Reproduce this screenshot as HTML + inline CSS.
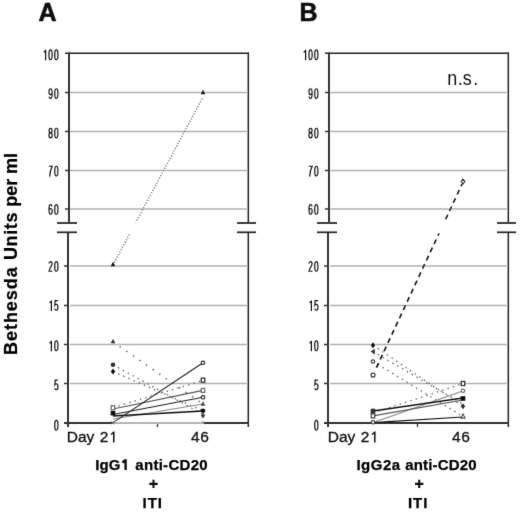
<!DOCTYPE html>
<html><head><meta charset="utf-8"><style>
html,body{margin:0;padding:0;background:#fff;width:520px;height:513px;overflow:hidden}
svg{display:block}
#wrap{}
</style></head><body>
<div id="wrap"><svg width="520" height="513" viewBox="0 0 520 513">
<style>
text { font-family: "Liberation Sans", sans-serif; fill: #111; }
.tk { font-size: 16px; }
.dg { fill: none; stroke: #111; stroke-width: 1.2; }
.xl { font-size: 15.5px; stroke: #111; stroke-width: 0.3px; }
.bl { font-size: 15px; font-weight: bold; word-spacing: 3px; fill: #000; stroke: #000; stroke-width: 0.25px; }
.pl { font-size: 25px; font-weight: bold; stroke: #111; stroke-width: 0.6px; }
.yt { font-size: 18px; font-weight: bold; fill: #000; stroke: #000; stroke-width: 0.25px; }
</style>
<defs><filter id="bl" filterUnits="userSpaceOnUse" x="0" y="0" width="520" height="513"><feConvolveMatrix order="3" kernelMatrix="0.01 0.065 0.01 0.065 0.7 0.065 0.01 0.065 0.01" divisor="1" edgeMode="duplicate"/></filter></defs>
<rect width="520" height="513" fill="#fff"/>
<g filter="url(#bl)">
<line x1="70" y1="92.5" x2="247" y2="92.5" stroke="#b0b0b0" stroke-width="1.3"/>
<line x1="70" y1="131.5" x2="247" y2="131.5" stroke="#b0b0b0" stroke-width="1.3"/>
<line x1="70" y1="170.5" x2="247" y2="170.5" stroke="#b0b0b0" stroke-width="1.3"/>
<line x1="70" y1="209.0" x2="247" y2="209.0" stroke="#b0b0b0" stroke-width="1.3"/>
<line x1="70" y1="266.0" x2="247" y2="266.0" stroke="#b0b0b0" stroke-width="1.3"/>
<line x1="70" y1="305.5" x2="247" y2="305.5" stroke="#b0b0b0" stroke-width="1.3"/>
<line x1="70" y1="344.5" x2="247" y2="344.5" stroke="#b0b0b0" stroke-width="1.3"/>
<line x1="70" y1="383.5" x2="247" y2="383.5" stroke="#b0b0b0" stroke-width="1.3"/>
<line x1="65" y1="53.25" x2="249" y2="53.25" stroke="#262626" stroke-width="1.5"/>
<line x1="69" y1="52.5" x2="69" y2="223" stroke="#363636" stroke-width="2"/>
<line x1="68" y1="232" x2="68" y2="427" stroke="#363636" stroke-width="2"/>
<line x1="248.3" y1="52.5" x2="248.3" y2="223" stroke="#262626" stroke-width="1.5"/>
<line x1="248.3" y1="232" x2="248.3" y2="427" stroke="#262626" stroke-width="1.5"/>
<line x1="64" y1="423" x2="249" y2="423" stroke="#303030" stroke-width="2"/>
<line x1="157.5" y1="423" x2="157.5" y2="427" stroke="#303030" stroke-width="1.3"/>
<line x1="65" y1="92.5" x2="69" y2="92.5" stroke="#303030" stroke-width="1.5"/>
<line x1="65" y1="131.5" x2="69" y2="131.5" stroke="#303030" stroke-width="1.5"/>
<line x1="65" y1="170.5" x2="69" y2="170.5" stroke="#303030" stroke-width="1.5"/>
<line x1="65" y1="209.0" x2="69" y2="209.0" stroke="#303030" stroke-width="1.5"/>
<line x1="64" y1="266.0" x2="68" y2="266.0" stroke="#303030" stroke-width="1.5"/>
<line x1="64" y1="305.5" x2="68" y2="305.5" stroke="#303030" stroke-width="1.5"/>
<line x1="64" y1="344.5" x2="68" y2="344.5" stroke="#303030" stroke-width="1.5"/>
<line x1="64" y1="383.5" x2="68" y2="383.5" stroke="#303030" stroke-width="1.5"/>
<line x1="57" y1="223" x2="77" y2="223" stroke="#3c3c3c" stroke-width="2"/>
<line x1="57" y1="232.3" x2="77" y2="232.3" stroke="#222" stroke-width="1.7"/>
<line x1="237" y1="223" x2="256" y2="223" stroke="#3c3c3c" stroke-width="2"/>
<line x1="237" y1="232.3" x2="256" y2="232.3" stroke="#222" stroke-width="1.7"/>
<path transform="translate(42.50,49.3) scale(1,0.9821)" d="M3.1,0.5 V11.2 M3.1,0.9 C2.7,2 2.0,2.6 1.2,2.9" class="dg"/>
<path transform="translate(48.30,49.3) scale(1,0.9821)" d="M2.25,0.65 C3.45,0.65 3.85,2 3.85,5.6 C3.85,9.2 3.45,10.55 2.25,10.55 C1.05,10.55 0.65,9.2 0.65,5.6 C0.65,2 1.05,0.65 2.25,0.65 Z" class="dg"/>
<path transform="translate(54.10,49.3) scale(1,0.9821)" d="M2.25,0.65 C3.45,0.65 3.85,2 3.85,5.6 C3.85,9.2 3.45,10.55 2.25,10.55 C1.05,10.55 0.65,9.2 0.65,5.6 C0.65,2 1.05,0.65 2.25,0.65 Z" class="dg"/>
<path transform="translate(48.30,88.1) scale(1,0.9821)" d="M0.75,8.7 C0.95,10 1.5,10.55 2.2,10.55 C3.4,10.55 3.8,8.7 3.8,5.4 C3.8,2 3.3,0.65 2.25,0.65 C1.2,0.65 0.65,1.9 0.65,3.7 C0.65,5.5 1.2,6.6 2.2,6.6 C3.0,6.6 3.55,6.0 3.8,5.1" class="dg"/>
<path transform="translate(54.10,88.1) scale(1,0.9821)" d="M2.25,0.65 C3.45,0.65 3.85,2 3.85,5.6 C3.85,9.2 3.45,10.55 2.25,10.55 C1.05,10.55 0.65,9.2 0.65,5.6 C0.65,2 1.05,0.65 2.25,0.65 Z" class="dg"/>
<path transform="translate(48.30,127.6) scale(1,0.9821)" d="M2.25,0.65 C1.2,0.65 0.8,1.6 0.8,3.0 C0.8,4.4 1.3,5.3 2.25,5.3 C3.2,5.3 3.7,4.4 3.7,3.0 C3.7,1.6 3.3,0.65 2.25,0.65 Z M2.25,5.3 C1.1,5.3 0.65,6.4 0.65,7.9 C0.65,9.5 1.2,10.55 2.25,10.55 C3.3,10.55 3.85,9.5 3.85,7.9 C3.85,6.4 3.4,5.3 2.25,5.3 Z" class="dg"/>
<path transform="translate(54.10,127.6) scale(1,0.9821)" d="M2.25,0.65 C3.45,0.65 3.85,2 3.85,5.6 C3.85,9.2 3.45,10.55 2.25,10.55 C1.05,10.55 0.65,9.2 0.65,5.6 C0.65,2 1.05,0.65 2.25,0.65 Z" class="dg"/>
<path transform="translate(48.30,165.6) scale(1,0.9821)" d="M0.5,0.65 H3.9 C2.7,3 1.6,6.6 1.4,11.2" class="dg"/>
<path transform="translate(54.10,165.6) scale(1,0.9821)" d="M2.25,0.65 C3.45,0.65 3.85,2 3.85,5.6 C3.85,9.2 3.45,10.55 2.25,10.55 C1.05,10.55 0.65,9.2 0.65,5.6 C0.65,2 1.05,0.65 2.25,0.65 Z" class="dg"/>
<path transform="translate(48.30,203.9) scale(1,0.9821)" d="M3.75,2.5 C3.55,1.2 3.0,0.65 2.3,0.65 C1.1,0.65 0.7,2.5 0.7,5.8 C0.7,9.2 1.2,10.55 2.25,10.55 C3.3,10.55 3.85,9.4 3.85,7.6 C3.85,5.8 3.3,4.7 2.3,4.7 C1.5,4.7 0.95,5.3 0.7,6.1" class="dg"/>
<path transform="translate(54.10,203.9) scale(1,0.9821)" d="M2.25,0.65 C3.45,0.65 3.85,2 3.85,5.6 C3.85,9.2 3.45,10.55 2.25,10.55 C1.05,10.55 0.65,9.2 0.65,5.6 C0.65,2 1.05,0.65 2.25,0.65 Z" class="dg"/>
<path transform="translate(48.30,260.9) scale(1,0.9821)" d="M0.7,2.7 C0.8,1.2 1.4,0.65 2.25,0.65 C3.2,0.65 3.8,1.5 3.8,3.0 C3.8,5.2 0.75,7.9 0.75,10.55 H4.1" class="dg"/>
<path transform="translate(54.10,260.9) scale(1,0.9821)" d="M2.25,0.65 C3.45,0.65 3.85,2 3.85,5.6 C3.85,9.2 3.45,10.55 2.25,10.55 C1.05,10.55 0.65,9.2 0.65,5.6 C0.65,2 1.05,0.65 2.25,0.65 Z" class="dg"/>
<path transform="translate(48.30,299.9) scale(1,0.9821)" d="M3.1,0.5 V11.2 M3.1,0.9 C2.7,2 2.0,2.6 1.2,2.9" class="dg"/>
<path transform="translate(54.10,299.9) scale(1,0.9821)" d="M3.8,0.65 H1.1 L0.8,5.3 C1.2,4.7 1.7,4.4 2.3,4.4 C3.3,4.4 3.85,5.4 3.85,7.5 C3.85,9.6 3.2,10.55 2.2,10.55 C1.3,10.55 0.8,9.9 0.65,8.9" class="dg"/>
<path transform="translate(48.30,340.3) scale(1,0.9821)" d="M3.1,0.5 V11.2 M3.1,0.9 C2.7,2 2.0,2.6 1.2,2.9" class="dg"/>
<path transform="translate(54.10,340.3) scale(1,0.9821)" d="M2.25,0.65 C3.45,0.65 3.85,2 3.85,5.6 C3.85,9.2 3.45,10.55 2.25,10.55 C1.05,10.55 0.65,9.2 0.65,5.6 C0.65,2 1.05,0.65 2.25,0.65 Z" class="dg"/>
<path transform="translate(54.10,379.4) scale(1,0.9821)" d="M3.8,0.65 H1.1 L0.8,5.3 C1.2,4.7 1.7,4.4 2.3,4.4 C3.3,4.4 3.85,5.4 3.85,7.5 C3.85,9.6 3.2,10.55 2.2,10.55 C1.3,10.55 0.8,9.9 0.65,8.9" class="dg"/>
<path transform="translate(54.10,419.8) scale(1,0.9821)" d="M2.25,0.65 C3.45,0.65 3.85,2 3.85,5.6 C3.85,9.2 3.45,10.55 2.25,10.55 C1.05,10.55 0.65,9.2 0.65,5.6 C0.65,2 1.05,0.65 2.25,0.65 Z" class="dg"/>
<text x="66.8" y="442" class="xl" style="word-spacing:1.2px">Day 2</text>
<path d="M113.8 431.6V442.4M113.7 432.2L111.0 434.5" stroke="#111" stroke-width="1.5" fill="none"/>
<text x="200.2" y="442" class="xl" text-anchor="middle" style="letter-spacing:0.6px">46</text>
<line x1="330" y1="92.5" x2="507" y2="92.5" stroke="#b0b0b0" stroke-width="1.3"/>
<line x1="330" y1="131.5" x2="507" y2="131.5" stroke="#b0b0b0" stroke-width="1.3"/>
<line x1="330" y1="170.5" x2="507" y2="170.5" stroke="#b0b0b0" stroke-width="1.3"/>
<line x1="330" y1="209.0" x2="507" y2="209.0" stroke="#b0b0b0" stroke-width="1.3"/>
<line x1="330" y1="266.0" x2="507" y2="266.0" stroke="#b0b0b0" stroke-width="1.3"/>
<line x1="330" y1="305.5" x2="507" y2="305.5" stroke="#b0b0b0" stroke-width="1.3"/>
<line x1="330" y1="344.5" x2="507" y2="344.5" stroke="#b0b0b0" stroke-width="1.3"/>
<line x1="330" y1="383.5" x2="507" y2="383.5" stroke="#b0b0b0" stroke-width="1.3"/>
<line x1="325" y1="53.25" x2="509" y2="53.25" stroke="#262626" stroke-width="1.5"/>
<line x1="329" y1="52.5" x2="329" y2="223" stroke="#363636" stroke-width="2"/>
<line x1="328" y1="232" x2="328" y2="427" stroke="#363636" stroke-width="2"/>
<line x1="508.3" y1="52.5" x2="508.3" y2="223" stroke="#262626" stroke-width="1.5"/>
<line x1="508.3" y1="232" x2="508.3" y2="427" stroke="#262626" stroke-width="1.5"/>
<line x1="324" y1="423" x2="509" y2="423" stroke="#303030" stroke-width="2"/>
<line x1="417.5" y1="423" x2="417.5" y2="427" stroke="#303030" stroke-width="1.3"/>
<line x1="325" y1="92.5" x2="329" y2="92.5" stroke="#303030" stroke-width="1.5"/>
<line x1="325" y1="131.5" x2="329" y2="131.5" stroke="#303030" stroke-width="1.5"/>
<line x1="325" y1="170.5" x2="329" y2="170.5" stroke="#303030" stroke-width="1.5"/>
<line x1="325" y1="209.0" x2="329" y2="209.0" stroke="#303030" stroke-width="1.5"/>
<line x1="324" y1="266.0" x2="328" y2="266.0" stroke="#303030" stroke-width="1.5"/>
<line x1="324" y1="305.5" x2="328" y2="305.5" stroke="#303030" stroke-width="1.5"/>
<line x1="324" y1="344.5" x2="328" y2="344.5" stroke="#303030" stroke-width="1.5"/>
<line x1="324" y1="383.5" x2="328" y2="383.5" stroke="#303030" stroke-width="1.5"/>
<line x1="317" y1="223" x2="337" y2="223" stroke="#3c3c3c" stroke-width="2"/>
<line x1="317" y1="232.3" x2="337" y2="232.3" stroke="#222" stroke-width="1.7"/>
<line x1="497" y1="223" x2="516" y2="223" stroke="#3c3c3c" stroke-width="2"/>
<line x1="497" y1="232.3" x2="516" y2="232.3" stroke="#222" stroke-width="1.7"/>
<path transform="translate(302.50,49.3) scale(1,0.9821)" d="M3.1,0.5 V11.2 M3.1,0.9 C2.7,2 2.0,2.6 1.2,2.9" class="dg"/>
<path transform="translate(308.30,49.3) scale(1,0.9821)" d="M2.25,0.65 C3.45,0.65 3.85,2 3.85,5.6 C3.85,9.2 3.45,10.55 2.25,10.55 C1.05,10.55 0.65,9.2 0.65,5.6 C0.65,2 1.05,0.65 2.25,0.65 Z" class="dg"/>
<path transform="translate(314.10,49.3) scale(1,0.9821)" d="M2.25,0.65 C3.45,0.65 3.85,2 3.85,5.6 C3.85,9.2 3.45,10.55 2.25,10.55 C1.05,10.55 0.65,9.2 0.65,5.6 C0.65,2 1.05,0.65 2.25,0.65 Z" class="dg"/>
<path transform="translate(308.30,88.1) scale(1,0.9821)" d="M0.75,8.7 C0.95,10 1.5,10.55 2.2,10.55 C3.4,10.55 3.8,8.7 3.8,5.4 C3.8,2 3.3,0.65 2.25,0.65 C1.2,0.65 0.65,1.9 0.65,3.7 C0.65,5.5 1.2,6.6 2.2,6.6 C3.0,6.6 3.55,6.0 3.8,5.1" class="dg"/>
<path transform="translate(314.10,88.1) scale(1,0.9821)" d="M2.25,0.65 C3.45,0.65 3.85,2 3.85,5.6 C3.85,9.2 3.45,10.55 2.25,10.55 C1.05,10.55 0.65,9.2 0.65,5.6 C0.65,2 1.05,0.65 2.25,0.65 Z" class="dg"/>
<path transform="translate(308.30,127.6) scale(1,0.9821)" d="M2.25,0.65 C1.2,0.65 0.8,1.6 0.8,3.0 C0.8,4.4 1.3,5.3 2.25,5.3 C3.2,5.3 3.7,4.4 3.7,3.0 C3.7,1.6 3.3,0.65 2.25,0.65 Z M2.25,5.3 C1.1,5.3 0.65,6.4 0.65,7.9 C0.65,9.5 1.2,10.55 2.25,10.55 C3.3,10.55 3.85,9.5 3.85,7.9 C3.85,6.4 3.4,5.3 2.25,5.3 Z" class="dg"/>
<path transform="translate(314.10,127.6) scale(1,0.9821)" d="M2.25,0.65 C3.45,0.65 3.85,2 3.85,5.6 C3.85,9.2 3.45,10.55 2.25,10.55 C1.05,10.55 0.65,9.2 0.65,5.6 C0.65,2 1.05,0.65 2.25,0.65 Z" class="dg"/>
<path transform="translate(308.30,165.6) scale(1,0.9821)" d="M0.5,0.65 H3.9 C2.7,3 1.6,6.6 1.4,11.2" class="dg"/>
<path transform="translate(314.10,165.6) scale(1,0.9821)" d="M2.25,0.65 C3.45,0.65 3.85,2 3.85,5.6 C3.85,9.2 3.45,10.55 2.25,10.55 C1.05,10.55 0.65,9.2 0.65,5.6 C0.65,2 1.05,0.65 2.25,0.65 Z" class="dg"/>
<path transform="translate(308.30,203.9) scale(1,0.9821)" d="M3.75,2.5 C3.55,1.2 3.0,0.65 2.3,0.65 C1.1,0.65 0.7,2.5 0.7,5.8 C0.7,9.2 1.2,10.55 2.25,10.55 C3.3,10.55 3.85,9.4 3.85,7.6 C3.85,5.8 3.3,4.7 2.3,4.7 C1.5,4.7 0.95,5.3 0.7,6.1" class="dg"/>
<path transform="translate(314.10,203.9) scale(1,0.9821)" d="M2.25,0.65 C3.45,0.65 3.85,2 3.85,5.6 C3.85,9.2 3.45,10.55 2.25,10.55 C1.05,10.55 0.65,9.2 0.65,5.6 C0.65,2 1.05,0.65 2.25,0.65 Z" class="dg"/>
<path transform="translate(308.30,260.9) scale(1,0.9821)" d="M0.7,2.7 C0.8,1.2 1.4,0.65 2.25,0.65 C3.2,0.65 3.8,1.5 3.8,3.0 C3.8,5.2 0.75,7.9 0.75,10.55 H4.1" class="dg"/>
<path transform="translate(314.10,260.9) scale(1,0.9821)" d="M2.25,0.65 C3.45,0.65 3.85,2 3.85,5.6 C3.85,9.2 3.45,10.55 2.25,10.55 C1.05,10.55 0.65,9.2 0.65,5.6 C0.65,2 1.05,0.65 2.25,0.65 Z" class="dg"/>
<path transform="translate(308.30,299.9) scale(1,0.9821)" d="M3.1,0.5 V11.2 M3.1,0.9 C2.7,2 2.0,2.6 1.2,2.9" class="dg"/>
<path transform="translate(314.10,299.9) scale(1,0.9821)" d="M3.8,0.65 H1.1 L0.8,5.3 C1.2,4.7 1.7,4.4 2.3,4.4 C3.3,4.4 3.85,5.4 3.85,7.5 C3.85,9.6 3.2,10.55 2.2,10.55 C1.3,10.55 0.8,9.9 0.65,8.9" class="dg"/>
<path transform="translate(308.30,340.3) scale(1,0.9821)" d="M3.1,0.5 V11.2 M3.1,0.9 C2.7,2 2.0,2.6 1.2,2.9" class="dg"/>
<path transform="translate(314.10,340.3) scale(1,0.9821)" d="M2.25,0.65 C3.45,0.65 3.85,2 3.85,5.6 C3.85,9.2 3.45,10.55 2.25,10.55 C1.05,10.55 0.65,9.2 0.65,5.6 C0.65,2 1.05,0.65 2.25,0.65 Z" class="dg"/>
<path transform="translate(314.10,379.4) scale(1,0.9821)" d="M3.8,0.65 H1.1 L0.8,5.3 C1.2,4.7 1.7,4.4 2.3,4.4 C3.3,4.4 3.85,5.4 3.85,7.5 C3.85,9.6 3.2,10.55 2.2,10.55 C1.3,10.55 0.8,9.9 0.65,8.9" class="dg"/>
<path transform="translate(314.10,419.8) scale(1,0.9821)" d="M2.25,0.65 C3.45,0.65 3.85,2 3.85,5.6 C3.85,9.2 3.45,10.55 2.25,10.55 C1.05,10.55 0.65,9.2 0.65,5.6 C0.65,2 1.05,0.65 2.25,0.65 Z" class="dg"/>
<text x="327.8" y="442" class="xl" style="word-spacing:1.2px">Day 2</text>
<path d="M374.8 431.6V442.4M374.7 432.2L372.0 434.5" stroke="#111" stroke-width="1.5" fill="none"/>
<text x="461.2" y="442" class="xl" text-anchor="middle" style="letter-spacing:0.6px">46</text>
<line x1="113" y1="265" x2="203" y2="97" stroke="#7a7a7a" stroke-width="1.5" stroke-dasharray="1.2 1.6"/>
<line x1="113" y1="342" x2="203" y2="404" stroke="#666" stroke-width="1.5" stroke-dasharray="1.5 6.5"/>
<line x1="113" y1="364.7" x2="203" y2="414.5" stroke="#666" stroke-width="1.4" stroke-dasharray="1.4 4.2" stroke-linecap="butt"/>
<line x1="113" y1="371.5" x2="203" y2="410.8" stroke="#666" stroke-width="1.4" stroke-dasharray="1.4 4.2" stroke-linecap="butt"/>
<line x1="113" y1="407.5" x2="203" y2="380.5" stroke="#666" stroke-width="1.4" stroke-dasharray="1.4 4.2" stroke-linecap="butt"/>
<line x1="114" y1="423" x2="203" y2="423" stroke="#b4b4b4" stroke-width="2"/>
<line x1="113" y1="419" x2="203" y2="404" stroke="#888" stroke-width="1.02"/>
<line x1="113" y1="409" x2="203" y2="390.4" stroke="#555" stroke-width="1.27"/>
<line x1="113" y1="416" x2="203" y2="411" stroke="#111" stroke-width="1.36"/>
<line x1="113" y1="414.5" x2="203" y2="397.3" stroke="#222" stroke-width="1.1"/>
<line x1="113" y1="422.6" x2="203" y2="362.7" stroke="#222" stroke-width="1.1"/>
<path d="M113 261.7L115.3 266.3L110.7 266.3Z" fill="#111"/>
<path d="M113 338.7L115.3 343.3L110.7 343.3Z" fill="#333"/>
<circle cx="113" cy="364.7" r="2.3" fill="#333"/>
<path d="M113 368.5L115.2 371.5L113 374.5L110.8 371.5Z" fill="#111"/>
<rect x="111.3" y="405.8" width="3.4" height="4.0" fill="#fff" stroke="#666" stroke-width="1.25"/>
<rect x="110.7" y="410.9" width="4.6" height="4.6" fill="#111"/>
<path d="M111.3 420.90000000000003L114.7 424.3M114.7 420.90000000000003L111.3 424.3" stroke="#888" stroke-width="1"/>
<path d="M203 89.7L205.3 94.3L200.7 94.3Z" fill="#111"/>
<circle cx="203" cy="362.8" r="1.7" fill="#fff" stroke="#111" stroke-width="1.2"/>
<rect x="201.3" y="378.2" width="3.4" height="4.0" fill="#fff" stroke="#111" stroke-width="1.25"/>
<rect x="201.3" y="388.4" width="3.4" height="4.0" fill="#fff" stroke="#666" stroke-width="1.25"/>
<circle cx="203" cy="397.3" r="1.7" fill="#fff" stroke="#111" stroke-width="1.2"/>
<path d="M203 401.2L205.3 405.8L200.7 405.8Z" fill="#444"/>
<circle cx="203" cy="410.8" r="2.3" fill="#111"/>
<path d="M203 412.6L205.2 415.6L203 418.6L200.8 415.6Z" fill="#444"/>
<path d="M201.3 420.90000000000003L204.7 424.3M204.7 420.90000000000003L201.3 424.3" stroke="#aaa" stroke-width="1"/>
<line x1="373" y1="345.2" x2="463" y2="406.3" stroke="#666" stroke-width="1.4" stroke-dasharray="1.4 4.2" stroke-linecap="butt"/>
<line x1="373" y1="351.6" x2="463" y2="404" stroke="#666" stroke-width="1.4" stroke-dasharray="1.4 4.2" stroke-linecap="butt"/>
<line x1="373" y1="361.5" x2="463" y2="416.5" stroke="#666" stroke-width="1.4" stroke-dasharray="1.4 4.2" stroke-linecap="butt"/>
<line x1="373" y1="413" x2="463" y2="383.5" stroke="#666" stroke-width="1.4" stroke-dasharray="1.4 4.2" stroke-linecap="butt"/>
<line x1="376.4" y1="367.7" x2="462.0" y2="184.2" stroke="#111" stroke-width="1.6" stroke-dasharray="5 4.1"/>
<line x1="373" y1="422.6" x2="463" y2="390.8" stroke="#999" stroke-width="1.36"/>
<line x1="373" y1="415.8" x2="463" y2="400" stroke="#555" stroke-width="1.19"/>
<line x1="373" y1="411" x2="463" y2="398" stroke="#111" stroke-width="1.27"/>
<line x1="373" y1="422.6" x2="463" y2="417" stroke="#111" stroke-width="1.19"/>
<path d="M373 342.2L375.2 345.2L373 348.2L370.8 345.2Z" fill="#111"/>
<path d="M370.6 351.6L374.8 348.8L374.8 354.4Z" fill="#333"/>
<circle cx="373" cy="361.5" r="1.7" fill="#fff" stroke="#333" stroke-width="1.2"/>
<circle cx="373" cy="375" r="1.9549999999999998" fill="#fff" stroke="#222" stroke-width="1.2"/>
<rect x="370.7" y="408.7" width="4.6" height="4.6" fill="#333"/>
<rect x="371.3" y="413.8" width="3.4" height="4.0" fill="#fff" stroke="#333" stroke-width="1.25"/>
<circle cx="373" cy="422.3" r="1.7" fill="#fff" stroke="#333" stroke-width="1.2"/>
<path d="M463 179.1L464.8 181.6L463 184.1L461.2 181.6Z" fill="#fff" stroke="#222" stroke-width="1.1"/>
<rect x="461.3" y="381.5" width="3.4" height="4.0" fill="#fff" stroke="#111" stroke-width="1.25"/>
<circle cx="463" cy="390.8" r="1.7" fill="#fff" stroke="#666" stroke-width="1.2"/>
<rect x="460.7" y="396.2" width="4.6" height="4.6" fill="#111"/>
<path d="M463 403.3L465.2 406.3L463 409.3L460.8 406.3Z" fill="#333"/>
<path d="M463 414.1L465.0 418.1L461.0 418.1Z" fill="#fff" stroke="#444" stroke-width="1.1"/>
<rect x="78" y="222.4" width="158" height="10.9" fill="#fff"/>
<rect x="338" y="222.4" width="158" height="10.9" fill="#fff"/>
<text x="38.4" y="20.8" class="pl">A</text>
<text x="299.4" y="20.8" class="pl">B</text>
<text transform="translate(16.8,355) rotate(-90)" class="yt" textLength="87.8" lengthAdjust="spacing">Bethesda</text>
<text transform="translate(16.8,260) rotate(-90)" class="yt" textLength="47.5" lengthAdjust="spacing">Units</text>
<text transform="translate(16.8,206.7) rotate(-90)" class="yt">per</text>
<text transform="translate(16.8,174) rotate(-90)" class="yt">ml</text>
<text transform="translate(0,85.2) scale(1,1.08)" style="font-size:18px" x="447.2 457.8 462.8 473.2" y="0">n.s.</text>
<text x="95.3" y="470" class="bl">IgG</text>
<path d="M125.6 459.2V470M125.5 459.9L122.4 462.6" stroke="#111" stroke-width="2.4" fill="none"/>
<text x="135.3" y="470" class="bl" textLength="72.3" lengthAdjust="spacing">anti-CD20</text>
<path d="M149.3 483.9H157.7M153.5 479.7V488.1" stroke="#111" stroke-width="2.1"/>
<text x="142.6" y="508.2" class="bl" style="letter-spacing:0.9px">ITI</text>
<text x="356.4" y="470" class="bl" style="letter-spacing:0.5px">IgG2a</text>
<text x="405.2" y="470" class="bl" textLength="71.4" lengthAdjust="spacing">anti-CD20</text>
<path d="M415 483.9H423.4M419.2 479.7V488.1" stroke="#111" stroke-width="2.1"/>
<text x="408" y="508.2" class="bl" style="letter-spacing:0.9px">ITI</text>
</g>
</svg></div>
</body></html>
